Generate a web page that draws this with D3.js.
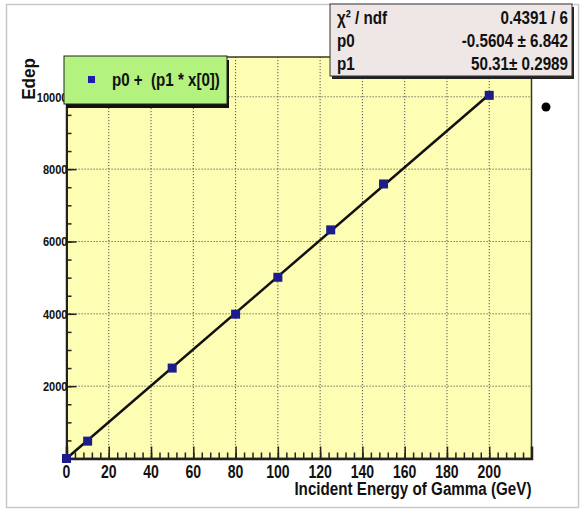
<!DOCTYPE html>
<html>
<head>
<meta charset="utf-8">
<script src="https://cdn.jsdelivr.net/npm/d3@7"></script>
<style>
  body { margin: 0; background: #fff; }
  svg text { font-family: "Liberation Sans", Arial, sans-serif; font-weight: bold; fill: #111; }
</style>
</head>
<body>
<div id="chart"></div>
<script>
// measured points
const energies = [0, 10, 50, 80, 100, 125, 150, 200];
const edep = [0, 480, 2500, 3990, 5010, 6320, 7590, 10040];

// fit result
const fit_p0 = -0.5604;
const fit_p1 = 50.31;
const stat_rows = [
  ["χ² / ndf", "0.4391 / 6"],
  ["p0", "-0.5604 ± 6.842"],
  ["p1", "50.31± 0.2989"]
];
const legend_label = "p0 +  (p1 * x[0])";

const x_ticks = [0, 20, 40, 60, 80, 100, 120, 140, 160, 180, 200];
const y_ticks = [2000, 4000, 6000, 8000, 10000];
const x_title = "Incident Energy of Gamma (GeV)";
const y_title = "Edep";

const W = 582, H = 510;
const plot = { left: 66.5, right: 531.5, top: 57, bottom: 458.5 };

// no narrow font installed, so squeeze text horizontally
function label(g, x, y, str, size, anchor, sx = 0.8, rot = 0) {
  return g.append("text")
    .attr("transform", `translate(${x},${y}) rotate(${rot}) scale(${sx},1)`)
    .attr("text-anchor", anchor)
    .attr("font-size", size)
    .attr("xml:space", "preserve")
    .text(str);
}

const svg = d3.select("#chart").append("svg")
  .attr("width", W).attr("height", H);

// outer frame
svg.append("rect")
  .attr("x", 6.5).attr("y", 4.5).attr("width", 572).attr("height", 503)
  .attr("fill", "#fff").attr("stroke", "#c8c8c8").attr("stroke-width", 1.5);

const x = d3.scaleLinear().domain([0, 220]).range([plot.left, plot.right]);
const y = d3.scaleLinear().domain([0, 11100]).range([plot.bottom, plot.top]);

// plot background
svg.append("rect")
  .attr("x", plot.left).attr("y", plot.top)
  .attr("width", plot.right - plot.left).attr("height", plot.bottom - plot.top)
  .attr("fill", "#fdfdb4");

// grid
const grid = svg.append("g").attr("stroke", "#555").attr("stroke-width", 1)
  .attr("stroke-dasharray", "1.2,1.8");
grid.selectAll("line.vx").data(x_ticks.filter(d => d > 0))
  .join("line").attr("class", "vx")
  .attr("x1", d => x(d)).attr("x2", d => x(d))
  .attr("y1", plot.top).attr("y2", plot.bottom);
grid.selectAll("line.hy").data(y_ticks)
  .join("line").attr("class", "hy")
  .attr("x1", plot.left).attr("x2", plot.right)
  .attr("y1", d => y(d)).attr("y2", d => y(d));

// frame
svg.append("rect")
  .attr("x", plot.left).attr("y", plot.top)
  .attr("width", plot.right - plot.left).attr("height", plot.bottom - plot.top)
  .attr("fill", "none").attr("stroke", "#3a3a1a").attr("stroke-width", 1.5);

// axes, ticks pointing inward
const xAxis = svg.append("g").attr("transform", `translate(0,${plot.bottom})`)
  .call(d3.axisTop(x).tickValues(x_ticks).tickSize(12).tickFormat(""));
xAxis.append("g")
  .call(d3.axisTop(x).tickValues(d3.range(0, 221, 4)).tickSize(6).tickFormat(""));
xAxis.selectAll("path, line").attr("stroke", "#222").attr("stroke-width", 1.5);
xAxis.select("path.domain").attr("stroke-width", 2.5);
const xLabels = svg.append("g");
x_ticks.forEach(d => label(xLabels, x(d), 478, d, 18, "middle", 0.78));

const yAxis = svg.append("g").attr("transform", `translate(${plot.left},0)`)
  .call(d3.axisRight(y).tickValues(y_ticks).tickSize(10).tickFormat(""));
yAxis.append("g")
  .call(d3.axisRight(y).tickValues(d3.range(500, 11001, 500)).tickSize(5).tickFormat(""));
yAxis.selectAll("path, line").attr("stroke", "#222").attr("stroke-width", 1.5);
yAxis.select("path.domain").attr("stroke-width", 2);
const yLabels = svg.append("g");
y_ticks.forEach(d => label(yLabels, plot.left + 1, y(d) + 5, d, 13.5, "end", 0.82));

// axis titles
label(svg, plot.right, 495, x_title, 19, "end", 0.8);
label(svg, 35, 58, y_title, 19, "end", 0.9, -90);

// fit line
const fitLine = d3.line().x(d => x(d)).y(d => y(fit_p0 + fit_p1 * d));
svg.append("path")
  .attr("d", fitLine([0, 200]))
  .attr("fill", "none").attr("stroke", "#111").attr("stroke-width", 2.5);

// points
svg.append("g").selectAll("rect").data(energies).join("rect")
  .attr("x", (d) => x(d) - 4.5)
  .attr("y", (d, i) => y(edep[i]) - 4.5)
  .attr("width", 9).attr("height", 9)
  .attr("fill", "#1c1c8c");

// legend box
const lg = svg.append("g");
lg.append("rect").attr("x", 66).attr("y", 60).attr("width", 163).attr("height", 48)
  .attr("fill", "#111");
lg.append("rect").attr("x", 64).attr("y", 56).attr("width", 163).attr("height", 48)
  .attr("fill", "#b3f27f").attr("stroke", "#222").attr("stroke-width", 1);
lg.append("rect").attr("x", 88).attr("y", 76).attr("width", 7).attr("height", 7)
  .attr("fill", "#1c1caa");
label(lg, 112, 86, legend_label, 18, "start", 0.84);

// stat box
const sg = svg.append("g");
sg.append("rect").attr("x", 332).attr("y", 7).attr("width", 242).attr("height", 72)
  .attr("fill", "#222");
sg.append("rect").attr("x", 330).attr("y", 4).attr("width", 242).attr("height", 72)
  .attr("fill", "#efe6e6").attr("stroke", "#333").attr("stroke-width", 1);
stat_rows.forEach((r, i) => {
  const base = 24 + i * 23;
  label(sg, 337, base, r[0], 19, "start", 0.8);
  label(sg, 568, base, r[1], 19, "end", 0.8);
});

// stray marker right of the pad
svg.append("circle").attr("cx", 546).attr("cy", 107).attr("r", 4.5).attr("fill", "#000");
</script>
</body>
</html>
